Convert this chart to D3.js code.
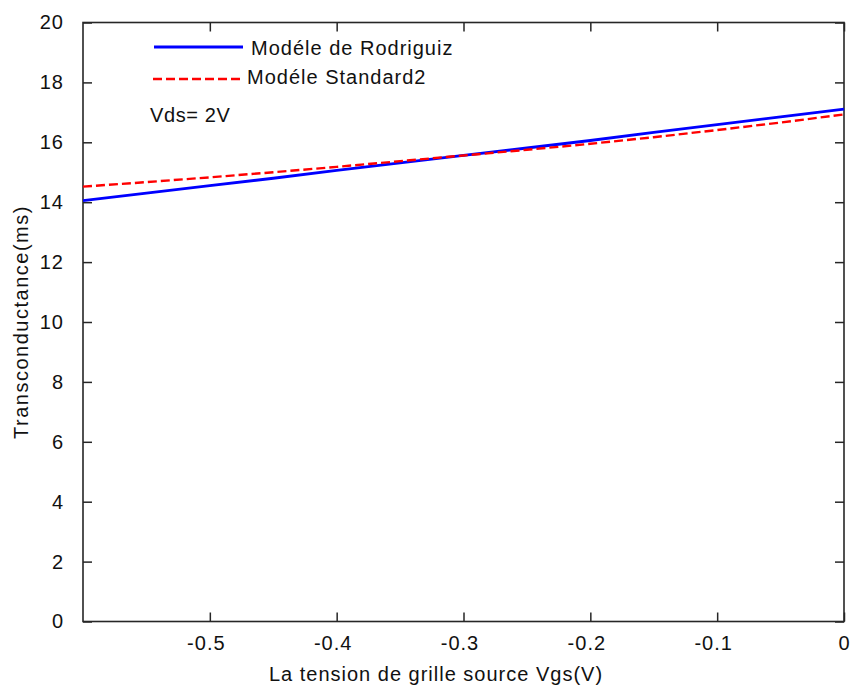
<!DOCTYPE html>
<html>
<head>
<meta charset="utf-8">
<script src="https://cdn.jsdelivr.net/npm/d3@7/dist/d3.min.js"></script>
<style>
  html, body { margin: 0; padding: 0; background: #fff; }
  svg { display: block; }
  text { font-family: "Liberation Sans", Arial, sans-serif; font-size: 20px; fill: #111; letter-spacing: 1px; }
</style>
</head>
<body>
<svg id="chart" width="852" height="686"></svg>
<script>
// Gate-source voltage samples (V)
const vgs = [-0.60, -0.55, -0.50, -0.45, -0.40, -0.35, -0.30, -0.25, -0.20, -0.15, -0.10, -0.05, 0.00];
// Transconductance (mS) for each model
const gmRodriguiz = [14.05, 14.30, 14.55, 14.80, 15.06, 15.31, 15.56, 15.81, 16.06, 16.33, 16.59, 16.85, 17.11];
const gmStandard2 = [14.52, 14.67, 14.83, 15.00, 15.18, 15.37, 15.56, 15.75, 15.95, 16.17, 16.41, 16.66, 16.93];
const xTicks = [-0.5, -0.4, -0.3, -0.2, -0.1, 0];
const yTicks = [0, 2, 4, 6, 8, 10, 12, 14, 16, 18, 20];
const seriesNames = ["Modéle de Rodriguiz", "Modéle Standard2"];
const annotation = "Vds= 2V";
const xTitle = "La tension de grille source Vgs(V)";
const yTitle = "Transconductance(ms)";

const svg = d3.select("#chart");
const L = 83, R = 844, T = 22.5, B = 621.5;

const x = d3.scaleLinear().domain([-0.6, 0]).range([L, R]);
const y = d3.scaleLinear().domain([0, 20]).range([B, T]);

const fmtX = d => d === 0 ? "0" : d3.format(".1f")(d).replace("−", "-");

// axes: ticks point inwards on all four sides
const tickLen = 9;
const axisColor = "#262626";

const gBottom = svg.append("g").attr("transform", `translate(0,${B})`)
  .call(d3.axisBottom(x).tickValues(xTicks).tickSizeInner(-tickLen).tickSizeOuter(0).tickPadding(14).tickFormat(fmtX));
const gTop = svg.append("g").attr("transform", `translate(0,${T})`)
  .call(d3.axisTop(x).tickValues(xTicks).tickSizeInner(-tickLen).tickSizeOuter(0).tickFormat(""));
const gLeft = svg.append("g").attr("transform", `translate(${L},0)`)
  .call(d3.axisLeft(y).tickValues(yTicks).tickSizeInner(-tickLen).tickSizeOuter(0).tickPadding(19).tickFormat(d3.format("d")));
const gRight = svg.append("g").attr("transform", `translate(${R},0)`)
  .call(d3.axisRight(y).tickValues(yTicks).tickSizeInner(-tickLen).tickSizeOuter(0).tickFormat(""));

[gBottom, gTop, gLeft, gRight].forEach(g => {
  g.select(".domain").remove();
  g.selectAll(".tick line").attr("stroke", axisColor).attr("stroke-width", 1.5);
  g.selectAll(".tick text").attr("font-family", null).attr("font-size", null).style("fill", "#111");
});
gBottom.selectAll(".tick text").attr("dx", d => d < 0 ? -4 : 0);

// plot box
svg.append("rect")
  .attr("x", L).attr("y", T).attr("width", R - L).attr("height", B - T)
  .attr("fill", "none").attr("stroke", axisColor).attr("stroke-width", 1.6);

// data lines
const line = vals => d3.line().x((d, i) => x(vgs[i])).y(d => y(d))(vals);

svg.append("path").attr("d", line(gmRodriguiz))
  .attr("fill", "none").attr("stroke", "#0000ff").attr("stroke-width", 2.8);
svg.append("path").attr("d", line(gmStandard2))
  .attr("fill", "none").attr("stroke", "#ff0000").attr("stroke-width", 2.4)
  .attr("stroke-dasharray", "9,4");

// legend (no frame)
const legend = svg.append("g").style("letter-spacing", "0.6px");
legend.append("line").attr("x1", 154).attr("x2", 243).attr("y1", 47).attr("y2", 47)
  .attr("stroke", "#0000ff").attr("stroke-width", 2.8);
legend.append("text").attr("x", 251).attr("y", 55).text(seriesNames[0]);
legend.append("line").attr("x1", 153).attr("x2", 242).attr("y1", 79).attr("y2", 79)
  .attr("stroke", "#ff0000").attr("stroke-width", 2.4).attr("stroke-dasharray", "9,4");
legend.append("text").attr("x", 247).attr("y", 84).text(seriesNames[1]);

svg.append("text").attr("x", 150).attr("y", 122).style("letter-spacing", "0.6px").text(annotation);

// axis titles
svg.append("text").attr("x", 436).attr("y", 681).attr("text-anchor", "middle").text(xTitle);
svg.append("text").attr("transform", `translate(28,322) rotate(-90)`)
  .attr("text-anchor", "middle").style("letter-spacing", "1.5px").text(yTitle);
</script>
</body>
</html>
